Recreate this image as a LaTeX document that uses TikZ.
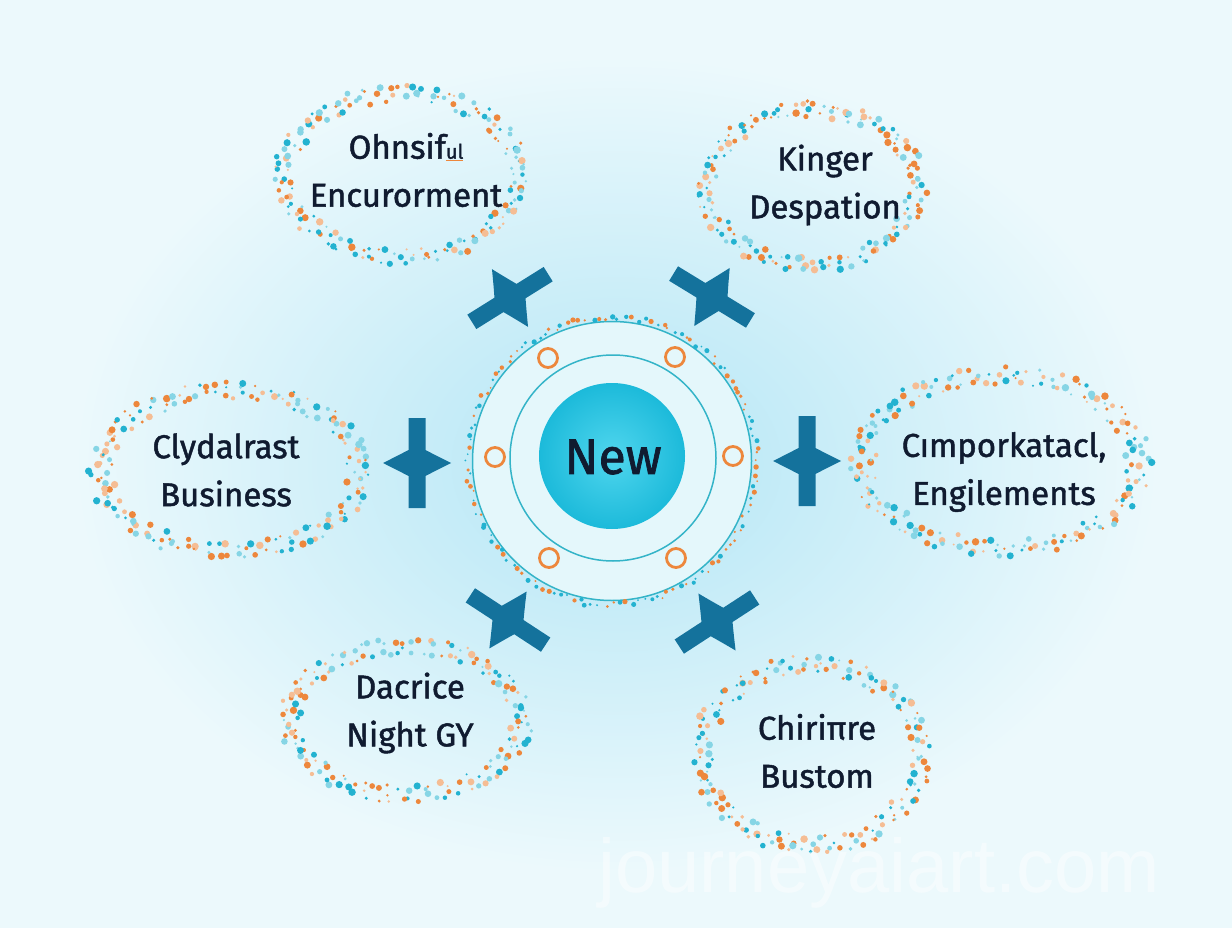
\documentclass[tikz,border=0pt]{standalone}
\usepackage{fontspec}
\setmainfont{Fira Sans}[FakeBold=1.4]
\newfontfamily\wmfont{Liberation Sans}
\usetikzlibrary{shapes.geometric}
\definecolor{bgc}{RGB}{236,249,252}
\definecolor{glowc}{RGB}{192,234,247}
\definecolor{dotA}{RGB}{35,178,208}
\definecolor{dotB}{RGB}{237,135,60}
\definecolor{txt}{RGB}{16,27,48}
\definecolor{starc}{RGB}{20,114,156}
\definecolor{ringc}{RGB}{52,180,200}
\definecolor{ringfill}{RGB}{228,247,251}
\definecolor{corec}{RGB}{28,186,218}
\definecolor{corein}{RGB}{80,214,238}
\pgfdeclareradialshading{bgglow}{\pgfpoint{0bp}{0bp}}{color(0bp)=(glowc); color(5bp)=(glowc); color(22bp)=(bgc); color(50bp)=(bgc)}
\newcommand\dotring[6]{% cx cy rx ry n jitter
  \foreach \k in {1,...,#5}{%
    \pgfmathsetmacro\dang{\k/#5*360+2*rand}%
    \pgfmathsetmacro\dfac{1+#6*rand}%
    \pgfmathsetmacro\drad{1.1+2.7*rnd}%
    \pgfmathtruncatemacro\dcc{4*rnd}%
    \ifcase\dcc\relax \def\dcol{dotA}\or\def\dcol{dotB}\or\def\dcol{dotA!55!white}\or\def\dcol{dotB!55!white}\else\def\dcol{dotA}\fi
    \fill[\dcol] ({#1+#3*\dfac*cos(\dang)},{#2+#4*\dfac*sin(\dang)}) circle[radius=\drad];
  }}
\newcommand\drawstar[3]{%
  \begin{scope}[shift={(#1,#2)},rotate=#3]
    \fill[starc] (8.5,45) -- (8.5,13) .. controls (20,7) .. (34,0) .. controls (20,-7) .. (8.5,-13) -- (8.5,-45)
      -- (-8.5,-45) -- (-8.5,-13) .. controls (-20,-7) .. (-34,0) .. controls (-20,7) .. (-8.5,13) -- (-8.5,45) -- cycle;
  \end{scope}}
\begin{document}
\begin{tikzpicture}[x=1pt,y=-1pt,
  lbl/.style={text=txt,align=center,font=\fontsize{33}{48}\selectfont,inner sep=0pt},
  oring/.style={circle,draw=dotB,line width=2.8,fill=ringfill,minimum size=19,inner sep=0pt}]
\useasboundingbox (0,0) rectangle (1232,928);
\shade[shading=bgglow] (0,0) rectangle (1232,928);
\pgfmathsetseed{11}
% dotted ellipses
\dotring{402}{175}{113}{78}{85}{0.06}
\dotring{402}{175}{122}{86}{95}{0.05}
\dotring{812}{187}{101}{74}{80}{0.06}
\dotring{812}{187}{110}{82}{90}{0.05}
\dotring{230}{471}{125}{76}{90}{0.06}
\dotring{230}{471}{135}{85}{100}{0.05}
\dotring{1001}{462}{133}{82}{95}{0.06}
\dotring{1001}{462}{144}{91}{105}{0.05}
\dotring{406}{720}{112}{70}{80}{0.06}
\dotring{406}{720}{121}{79}{90}{0.05}
\dotring{811}{755}{105}{86}{85}{0.06}
\dotring{811}{755}{115}{95}{95}{0.05}
% labels
\node[lbl] (t1) at (406,170) {Ohnsif\textcolor{dotB}{\underline{\textcolor{txt}{\fontsize{20}{20}\selectfont ul}}}\\Encurorment};
\node[lbl] (t2) at (825,185) {Kinger\\Despation};
\node[lbl] (t3) at (226,470) {Clydalrast\\Business};
\node[lbl] (t4) at (1004,472) {Cımporkatacl,\\Engilements};
\node[lbl] (t5) at (410,713) {Dacrice\\Night GY};
\node[lbl] (t6) at (817,751) {Chiriπre\\Bustom};
% central hub
\node[circle,fill=ringfill,draw=ringc,line width=1.5,minimum size=279,inner sep=0pt] (outer) at (612,461) {};
\foreach \k in {1,...,140}{%
  \pgfmathsetmacro\dang{\k/140*360+rand}%
  \pgfmathsetmacro\dr{141+6*rnd}%
  \pgfmathsetmacro\drad{0.9+1.8*rnd}%
  \pgfmathtruncatemacro\dcc{2*rnd}%
  \ifnum\dcc=0 \def\dcol{dotA}\else\def\dcol{dotB}\fi
  \fill[\dcol] ({612+\dr*cos(\dang)},{461+\dr*sin(\dang)}) circle[radius=\drad];
}
\node[circle,draw=ringc,line width=1.5,minimum size=206,inner sep=0pt] (inner) at (613,458) {};
\node[circle,inner color=corein,outer color=corec,minimum size=146,inner sep=0pt] (core) at (612,456) {};
\node[text=txt,font=\fontsize{50}{50}\selectfont] (hub) at (613,457) {New};
\node[oring] (r1) at (548,358) {};
\node[oring] (r2) at (675,357) {};
\node[oring] (r3) at (495,457) {};
\node[oring] (r4) at (733,456) {};
\node[oring] (r5) at (549,558) {};
\node[oring] (r6) at (676,558) {};
% stars
\drawstar{417}{463}{180}
\drawstar{807}{461}{0}
\drawstar{510}{298}{122}
\drawstar{712}{297}{58.6}
\drawstar{508}{620}{236.8}
\drawstar{717}{622}{-56.9}
% watermark
\node[text=white,opacity=0.45,font=\wmfont\fontsize{76}{76}\selectfont,anchor=base west,inner sep=0pt] (wm) at (598,892) {journeyaiart.com};
\end{tikzpicture}
\end{document}
